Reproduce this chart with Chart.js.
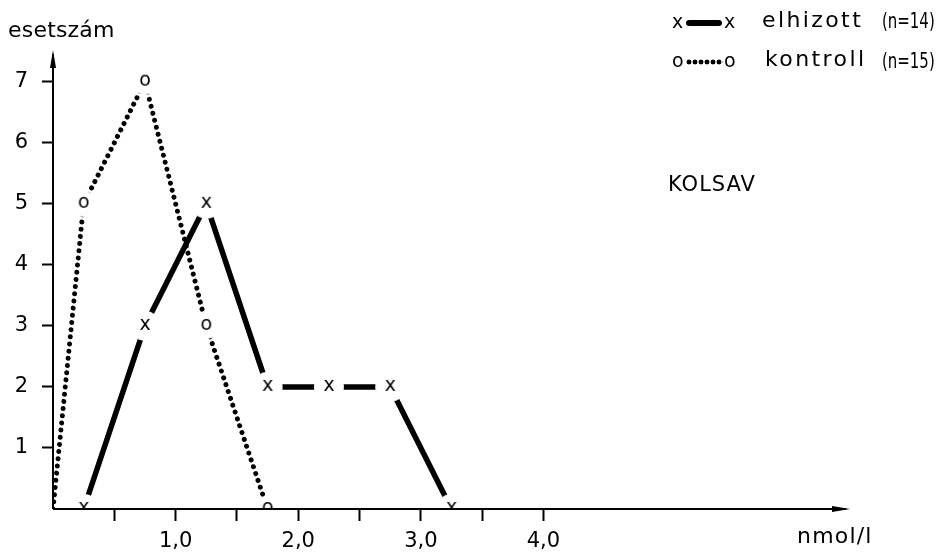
<!DOCTYPE html>
<html>
<head>
<meta charset="utf-8">
<script src="https://cdn.jsdelivr.net/npm/chart.js@4.4.1/dist/chart.umd.min.js"></script>
<style>
  body { margin: 0; background: #fff; }
  #wrap { position: relative; width: 950px; height: 555px; font-family: "DejaVu Sans", sans-serif; color: #000; }
  #wrap canvas { position: absolute; left: 0; top: 0; }
  .txt { position: absolute; font-size: 22px; white-space: nowrap; line-height: 24px; }
  .mk { position: absolute; font-size: 19px; line-height: 24px; }
  .nn { position: absolute; font-size: 22px; line-height: 24px; white-space: nowrap; transform: scaleX(0.68); transform-origin: left center; }
  .bar { position: absolute; height: 6px; background: #000; border-radius: 3px; }
  .dots { position: absolute; height: 6px; background: radial-gradient(circle, #000 2.2px, transparent 2.7px) 0 0 / 6px 6px repeat-x; }
</style>
</head>
<body>
<div id="wrap">
  <canvas id="chart" width="950" height="555"></canvas>
  <div class="txt" style="left:8px; top:18px; letter-spacing:0.2px;">esetszám</div>
  <div class="txt" style="left:668px; top:172px; font-size:21px; letter-spacing:1px;">KOLSAV</div>
  <div class="txt" style="left:797px; top:524px; letter-spacing:1.2px;">nmol/l</div>

  <div class="mk" style="left:672px; top:9px;">x</div>
  <div class="bar" style="left:686px; top:20px; width:36px;"></div>
  <div class="mk" style="left:724px; top:9px;">x</div>
  <div class="txt" style="left:762px; top:8px; letter-spacing:2.4px;">elhizott</div>
  <div class="nn" style="left:882px; top:9px;">(n=14)</div>

  <div class="mk" style="left:672px; top:48px;">o</div>
  <div class="dots" style="left:686px; top:59px; width:37px;"></div>
  <div class="mk" style="left:724px; top:48px;">o</div>
  <div class="txt" style="left:765px; top:47px; letter-spacing:2.4px;">kontroll</div>
  <div class="nn" style="left:882px; top:49px;">(n=15)</div>
</div>
<script>
// adatok
var elhizottX = [0.25, 0.75, 1.25, 1.75, 2.25, 2.75, 3.25];
var elhizottY = [0, 3, 5, 2, 2, 2, 0];
var kontrollX = [0, 0.25, 0.75, 1.25, 1.75];
var kontrollY = [0, 5, 7, 3, 0];
var kontrollMarked = [false, true, true, true, true];

var xTickValues = [0.5, 1.0, 1.5, 2.0, 2.5, 3.0, 3.5, 4.0];
var xTickLabels = ["", "1,0", "", "2,0", "", "3,0", "", "4,0"];
var yTickValues = [1, 2, 3, 4, 5, 6, 7];
var yTickLabels = ["1", "2", "3", "4", "5", "6", "7"];

function toPoints(xs, ys) {
    return xs.map(function (x, i) { return {x: x, y: ys[i]}; });
}

// marker: white disc (gap in the line) + letter
function makeMarker(ch, r) {
    var c = document.createElement("canvas");
    c.width = 34; c.height = 34;
    var g = c.getContext("2d");
    g.fillStyle = "#fff";
    g.beginPath();
    g.arc(17, 17, r, 0, Math.PI * 2);
    g.fill();
    g.fillStyle = "#000";
    g.font = "19px 'DejaVu Sans'";
    g.textAlign = "center";
    g.textBaseline = "middle";
    g.fillText(ch, 17, 16);
    return c;
}
var markX = makeMarker("x", 15);
var markO = makeMarker("o", 13);

// axis lines with arrows, drawn on top
var axesPlugin = {
    id: "axes",
    afterDatasetsDraw: function (chart) {
        var a = chart.chartArea, ctx = chart.ctx;
        ctx.save();
        ctx.strokeStyle = "#000";
        ctx.fillStyle = "#000";
        ctx.lineWidth = 2;
        ctx.beginPath();
        ctx.moveTo(a.left, a.bottom);
        ctx.lineTo(a.left, a.top + 4);
        ctx.moveTo(a.left, a.bottom);
        ctx.lineTo(a.right - 4, a.bottom);
        ctx.stroke();
        ctx.beginPath();
        ctx.moveTo(a.left, a.top);
        ctx.lineTo(a.left - 3, a.top + 18);
        ctx.lineTo(a.left + 3, a.top + 18);
        ctx.closePath();
        ctx.fill();
        ctx.beginPath();
        ctx.moveTo(a.right, a.bottom);
        ctx.lineTo(a.right - 18, a.bottom - 3);
        ctx.lineTo(a.right - 18, a.bottom + 3);
        ctx.closePath();
        ctx.fill();
        ctx.restore();
    }
};

var ctx = document.getElementById("chart").getContext("2d");
var myChart = new Chart(ctx, {
    type: "line",
    data: {
        datasets: [{
            label: "kontroll (n=15)",
            data: toPoints(kontrollX, kontrollY),
            borderColor: "#000",
            borderWidth: 5,
            borderDash: [0.01, 7.2],
            borderCapStyle: "round",
            tension: 0,
            pointStyle: function (c) { return kontrollMarked[c.dataIndex] ? markO : false; },
            pointRadius: function (c) { return kontrollMarked[c.dataIndex] ? 14 : 0; }
        }, {
            label: "elhizott (n=14)",
            data: toPoints(elhizottX, elhizottY),
            borderColor: "#000",
            borderWidth: 5.5,
            borderCapStyle: "round",
            tension: 0,
            pointStyle: markX,
            pointRadius: 14
        }]
    },
    options: {
        responsive: false,
        animation: false,
        layout: {padding: {top: 50, right: 100, left: 0, bottom: 0}},
        plugins: {legend: {display: false}, tooltip: {enabled: false}},
        scales: {
            x: {
                type: "linear",
                min: 0,
                max: 6.5,
                afterFit: function (s) { s.height = 46; },
                afterBuildTicks: function (s) {
                    s.ticks = xTickValues.map(function (v) { return {value: v}; });
                },
                border: {display: false},
                grid: {drawOnChartArea: false, color: "#000", tickLength: 12, tickWidth: 2},
                ticks: {
                    color: "#000",
                    padding: 8,
                    maxRotation: 0,
                    autoSkip: false,
                    font: {family: "DejaVu Sans", size: 21},
                    callback: function (v) {
                        var i = xTickValues.indexOf(v);
                        return i < 0 ? "" : xTickLabels[i];
                    }
                }
            },
            y: {
                min: 0,
                max: 7.52,
                afterFit: function (s) { s.width = 53; },
                afterBuildTicks: function (s) {
                    s.ticks = yTickValues.map(function (v) { return {value: v}; });
                },
                border: {display: false},
                grid: {drawOnChartArea: false, color: "#000", tickLength: 11, tickWidth: 2},
                ticks: {
                    color: "#000",
                    padding: 14,
                    autoSkip: false,
                    font: {family: "DejaVu Sans", size: 21},
                    callback: function (v) {
                        var i = yTickValues.indexOf(v);
                        return i < 0 ? "" : yTickLabels[i];
                    }
                }
            }
        }
    },
    plugins: [axesPlugin]
});
</script>
</body>
</html>
